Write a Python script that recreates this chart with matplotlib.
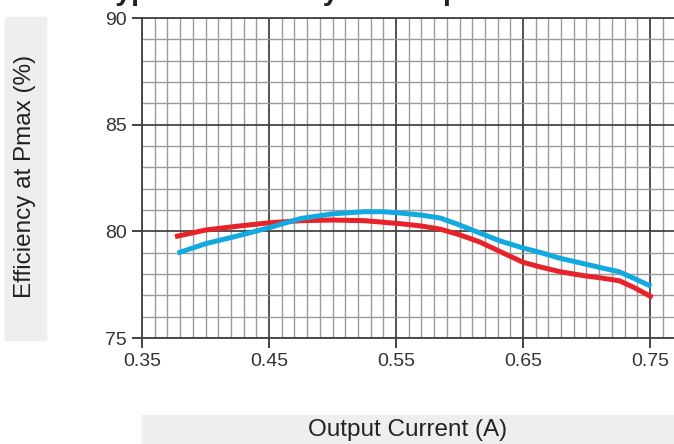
import matplotlib
matplotlib.use('Agg')
import matplotlib.pyplot as plt
from matplotlib.patches import Rectangle
from matplotlib.ticker import MultipleLocator

# Dados
corrente_verm = [0.376, 0.40, 0.425, 0.45, 0.475, 0.50, 0.525, 0.553, 0.57, 0.585, 0.60,
                 0.616, 0.632, 0.65, 0.663, 0.679, 0.698, 0.711, 0.726, 0.738, 0.752]
efic_verm = [79.75, 80.06, 80.24, 80.40, 80.50, 80.53, 80.50, 80.36, 80.25, 80.10, 79.84,
             79.50, 79.05, 78.55, 78.34, 78.11, 77.92, 77.82, 77.68, 77.35, 76.90]

corrente_azul = [0.378, 0.40, 0.425, 0.45, 0.475, 0.50, 0.525, 0.540, 0.553, 0.57, 0.585,
                 0.60, 0.616, 0.632, 0.65, 0.663, 0.679, 0.698, 0.711, 0.726, 0.738, 0.751]
efic_azul = [78.98, 79.42, 79.78, 80.17, 80.60, 80.82, 80.92, 80.92, 80.86, 80.76, 80.62,
             80.30, 79.92, 79.55, 79.22, 79.02, 78.74, 78.48, 78.30, 78.10, 77.78, 77.42]

ticks_x = [0.35, 0.45, 0.55, 0.65, 0.75]
rotulos_x = ['0.35', '0.45', '0.55', '0.65', '0.75']

titulo = 'Typical Efficiency vs. Output Current'
rotulo_x = 'Output Current (A)'
rotulo_y = 'Efficiency at Pmax (%)'

plt.rcParams['font.family'] = ['Liberation Sans', 'DejaVu Sans']

W, H = 674, 444
fig = plt.figure(figsize=(W / 100, H / 100), dpi=100)

# caixas cinza dos rótulos
fig.patches.append(Rectangle((5 / W, 1 - 340 / H), 41 / W, 323 / H,
                             transform=fig.transFigure, color='#eeeeee', zorder=0))
fig.patches.append(Rectangle((142 / W, 0), (W - 142) / W, 29 / H,
                             transform=fig.transFigure, color='#eeeeee', zorder=0))

ax = fig.add_axes([142 / W, 1 - 338 / H, (W - 142) / W, (338 - 18) / H])

ax.plot(corrente_verm, efic_verm, color='#e8222b', linewidth=3.6,
        solid_capstyle='butt', solid_joinstyle='round', zorder=5)
ax.plot(corrente_azul, efic_azul, color='#12a9e1', linewidth=3.6,
        solid_capstyle='butt', solid_joinstyle='round', zorder=6)

ax.set_xlim(0.35, 0.35 + (W - 142) / 1270)
ax.set_ylim(75, 90)
ax.xaxis.set_minor_locator(MultipleLocator(0.01))
ax.yaxis.set_major_locator(MultipleLocator(5))
ax.yaxis.set_minor_locator(MultipleLocator(1))
ax.set_xticks(ticks_x)
ax.set_xticklabels(rotulos_x)

ax.grid(which='major', color='#444444', linewidth=1.3)
ax.grid(which='minor', color='#9a9a9a', linewidth=1.0)
ax.set_axisbelow(True)

ax.spines['right'].set_visible(False)
for s in ['left', 'bottom', 'top']:
    ax.spines[s].set_color('#444444')
    ax.spines[s].set_linewidth(1.3)

ax.tick_params(which='major', direction='out', length=7.5, width=1.3,
               color='#333333', labelcolor='#333333', labelsize=14, pad=3.5)
ax.tick_params(which='minor', length=0)

fig.text(408 / W, 14 / H, rotulo_x, ha='center', va='center',
         fontsize=17.5, color='#222222')
fig.text(25.5 / W, 1 - 176 / H, rotulo_y, ha='center', va='center',
         rotation=90, fontsize=17.5, color='#222222')
fig.text(100 / W, 1.0, titulo, ha='left', va='baseline',
         fontsize=20.5, fontweight='bold', color='#222222')

fig.savefig('out.png', dpi=100)
